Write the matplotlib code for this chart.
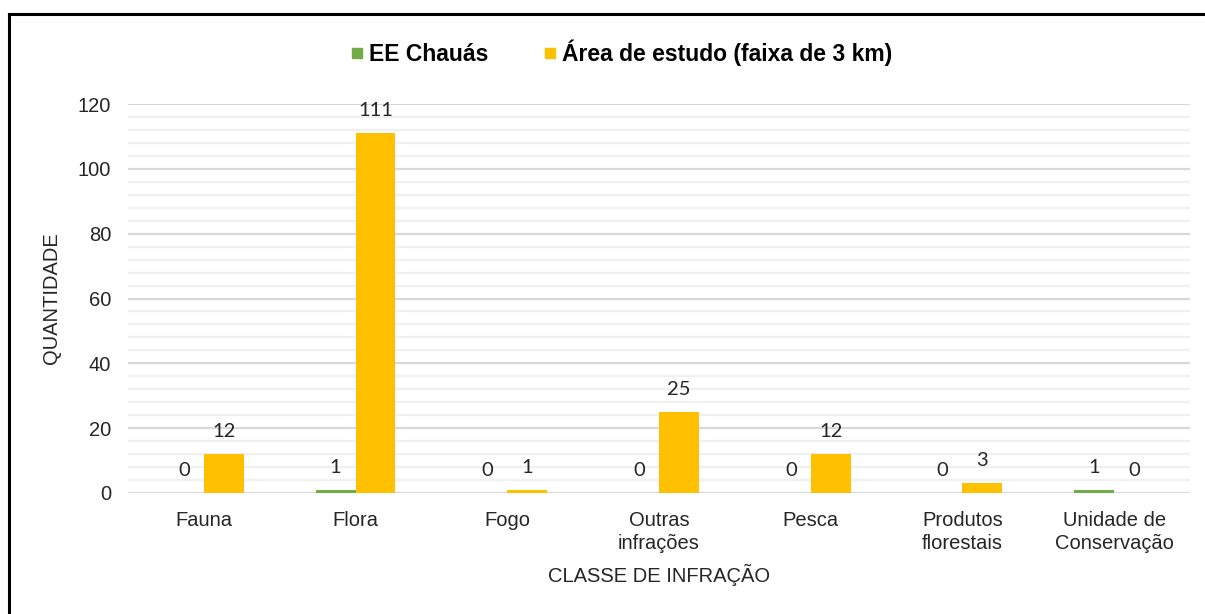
import matplotlib.pyplot as plt
import numpy as np
from matplotlib.lines import Line2D

categorias = ["Fauna", "Flora", "Fogo", "Outras\ninfrações", "Pesca",
              "Produtos\nflorestais", "Unidade de\nConservação"]
ee_chauas = [0, 1, 0, 0, 0, 0, 1]
area_estudo = [12, 111, 1, 25, 12, 3, 0]

verde = "#70AD47"
amarelo = "#FFC000"

plt.rcParams['font.family'] = ['Liberation Sans', 'DejaVu Sans']

fig = plt.figure(figsize=(12.05, 6.14), dpi=100)
ax = fig.add_axes([128 / 1205, 1 - 493 / 614, 1062 / 1205, 389 / 614])

x = np.arange(len(categorias))
w = 0.263
b1 = ax.bar(x - w / 2, ee_chauas, w, color=verde, label="EE Chauás", zorder=3)
b2 = ax.bar(x + w / 2, area_estudo, w, color=amarelo,
            label="Área de estudo (faixa de 3 km)", zorder=3)

# rótulos de dados
for barras in (b1, b2):
    for r in barras:
        ax.annotate(f"{int(r.get_height())}",
                    (r.get_x() + r.get_width() / 2, r.get_height()),
                    xytext=(0, 10), textcoords="offset points",
                    ha="center", va="bottom", fontsize=14.5, family="Lato",
                    color="#262626")

ax.set_xlim(-0.5, len(categorias) - 0.5)
ax.set_ylim(0, 120)
ax.set_yticks(range(0, 121, 20))
ax.set_yticks(range(0, 121, 4), minor=True)
ax.grid(axis="y", which="major", color="#D9D9D9", linewidth=1.6, zorder=0)
ax.grid(axis="y", which="minor", color="#F0F0F0", linewidth=1.6, zorder=0)
ax.tick_params(axis="both", which="both", length=0, labelsize=14.5,
               colors="#262626")
ax.tick_params(axis="y", pad=12)
ax.tick_params(axis="x", pad=13)
ax.set_xticks(x)
ax.set_xticklabels(categorias, linespacing=1.25)
for s in ax.spines.values():
    s.set_visible(False)

ax.set_ylabel("QUANTIDADE", fontsize=14.5, color="#262626", labelpad=12)
ax.set_xlabel("CLASSE DE INFRAÇÃO", fontsize=14.5, color="#262626", labelpad=8)

handles = [Line2D([], [], marker="s", linestyle="", color=verde, markersize=7),
           Line2D([], [], marker="s", linestyle="", color=amarelo, markersize=7)]
leg = fig.legend(handles, ["EE Chauás", "Área de estudo (faixa de 3 km)"],
                 loc="center", bbox_to_anchor=(616 / 1205, 1 - 53 / 614),
                 ncol=2, frameon=False, handletextpad=-0.2, columnspacing=1.9,
                 handlelength=1.5, prop={"weight": "bold", "size": 16.5})

# moldura (esquerda e topo)
fig.add_artist(Line2D([9 / 1205, 9 / 1205], [0, 1 - 14 / 614], color="black",
                      linewidth=2.2, transform=fig.transFigure))
fig.add_artist(Line2D([9 / 1205, 1], [1 - 14 / 614, 1 - 14 / 614],
                      color="black", linewidth=2.2, transform=fig.transFigure))

fig.savefig("out.png", dpi=100)
